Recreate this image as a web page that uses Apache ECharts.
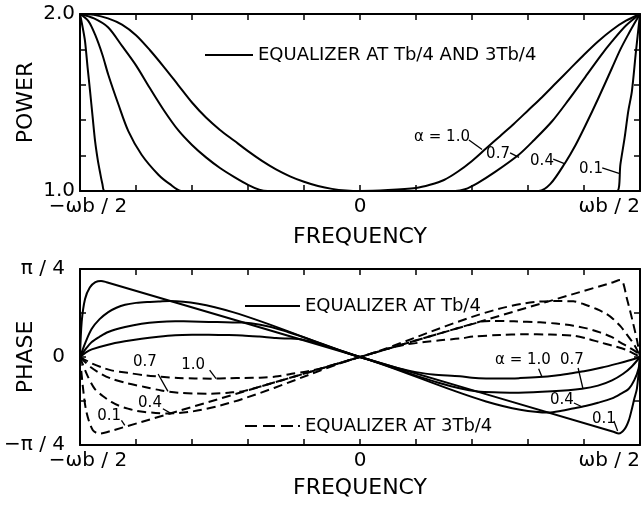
<!DOCTYPE html>
<html><head><meta charset="utf-8">
<script src="https://cdn.jsdelivr.net/npm/echarts/dist/echarts.min.js"></script>
<style>html,body{margin:0;padding:0;background:#fff}#c{width:642px;height:508px}</style>
</head><body><div id="c"></div>
<script>
// ---------- DATA (x in units of ωb/2, power; phase in units of π/4) ----------
const powerA10 = [[-1,2],[-0.95,1.995],[-0.9,1.975],[-0.85,1.94],[-0.8,1.88],[-0.75,1.795],[-0.7,1.7],[-0.65,1.6],[-0.6,1.5],[-0.55,1.415],[-0.5,1.345],[-0.45,1.285],[-0.4,1.225],[-0.35,1.17],[-0.3,1.122],[-0.25,1.083],[-0.2,1.052],[-0.15,1.028],[-0.1,1.012],[-0.05,1.003],[0,1],[0.1,1.005],[0.2,1.017],[0.25,1.035],[0.3,1.062],[0.35,1.11],[0.4,1.17],[0.45,1.24],[0.5,1.31],[0.55,1.38],[0.6,1.455],[0.65,1.53],[0.7,1.61],[0.75,1.69],[0.8,1.77],[0.85,1.845],[0.9,1.91],[0.95,1.962],[1,2]];
const powerA07 = [[-1,2],[-0.95,1.975],[-0.9,1.925],[-0.85,1.82],[-0.8,1.71],[-0.75,1.58],[-0.7,1.455],[-0.65,1.345],[-0.6,1.26],[-0.55,1.19],[-0.5,1.13],[-0.45,1.08],[-0.4,1.035],[-0.36,1.008],[-0.33,1],[0,1],[0.34,1],[0.375,1.01],[0.42,1.045],[0.48,1.105],[0.567,1.205],[0.62,1.285],[0.686,1.394],[0.745,1.515],[0.805,1.645],[0.86,1.765],[0.9,1.845],[0.95,1.935],[1,2]];
const powerA04 = [[-1,2],[-0.97,1.96],[-0.946,1.883],[-0.92,1.77],[-0.899,1.657],[-0.863,1.49],[-0.827,1.337],[-0.78,1.205],[-0.72,1.092],[-0.68,1.04],[-0.637,1],[0,1],[0.638,1],[0.68,1.04],[0.733,1.16],[0.77,1.26],[0.805,1.37],[0.85,1.52],[0.9,1.695],[0.93,1.8],[0.96,1.89],[0.985,1.96],[1,2]];
const powerA01 = [[-1,2],[-0.99,1.92],[-0.982,1.846],[-0.973,1.7],[-0.964,1.563],[-0.955,1.42],[-0.946,1.28],[-0.937,1.18],[-0.929,1.11],[-0.92,1.04],[-0.911,1],[0,1],[0.918,1],[0.93,1.15],[0.945,1.3],[0.958,1.45],[0.971,1.563],[0.985,1.78],[1,2]];

const phaseT4A10 = [[-1,0],[-0.98,0.05],[-0.958,0.087],[-0.9,0.14],[-0.84,0.178],[-0.78,0.208],[-0.72,0.23],[-0.66,0.246],[-0.6,0.252],[-0.54,0.253],[-0.48,0.25],[-0.42,0.245],[-0.36,0.232],[-0.3,0.216],[-0.26,0.21],[-0.22,0.205],[0,0],[0.14,-0.131],[0.2,-0.172],[0.26,-0.2],[0.357,-0.218],[0.4,-0.236],[0.45,-0.244],[0.52,-0.245],[0.57,-0.24],[0.64,-0.228],[0.7,-0.21],[0.745,-0.19],[0.8,-0.163],[0.864,-0.12],[0.92,-0.075],[0.96,-0.04],[1,0]];
const phaseT4A07 = [[-1,0],[-0.98,0.09],[-0.958,0.17],[-0.93,0.23],[-0.899,0.284],[-0.839,0.34],[-0.78,0.378],[-0.72,0.398],[-0.66,0.405],[-0.6,0.404],[-0.54,0.399],[-0.48,0.394],[-0.42,0.392],[0,0],[0.42,-0.393],[0.5,-0.402],[0.567,-0.405],[0.686,-0.39],[0.793,-0.36],[0.85,-0.325],[0.9,-0.265],[0.94,-0.19],[0.97,-0.11],[1,0]];
const phaseT4A04 = [[-1,0],[-0.98,0.17],[-0.958,0.32],[-0.93,0.43],[-0.899,0.51],[-0.87,0.56],[-0.839,0.594],[-0.8,0.615],[-0.76,0.625],[-0.72,0.63],[-0.68,0.636],[0,0],[0.674,-0.63],[0.72,-0.61],[0.76,-0.585],[0.805,-0.557],[0.85,-0.52],[0.9,-0.47],[0.93,-0.42],[0.96,-0.36],[0.98,-0.26],[0.995,-0.13],[1,0]];
const phaseT4A01 = [[-1,0],[-0.994,0.4],[-0.982,0.66],[-0.965,0.79],[-0.945,0.85],[-0.925,0.865],[-0.905,0.85],[0,0],[0.905,-0.85],[0.924,-0.87],[0.945,-0.82],[0.96,-0.72],[0.971,-0.59],[0.98,-0.47],[0.989,-0.36],[1,0]];

const phase3T4A10 = [[-1,0],[-0.96,-0.07],[-0.92,-0.12],[-0.888,-0.152],[-0.83,-0.18],[-0.769,-0.208],[-0.71,-0.225],[-0.65,-0.239],[-0.59,-0.244],[-0.531,-0.246],[-0.47,-0.242],[-0.412,-0.238],[-0.357,-0.235],[-0.293,-0.22],[-0.244,-0.19],[-0.19,-0.165],[-0.14,-0.13],[0,0],[0.12,0.112],[0.17,0.145],[0.23,0.17],[0.286,0.19],[0.357,0.21],[0.405,0.232],[0.5,0.25],[0.583,0.258],[0.68,0.255],[0.762,0.242],[0.81,0.21],[0.857,0.167],[0.9,0.13],[0.952,0.08],[1,0]];
const phase3T4A07 = [[-1,0],[-0.96,-0.12],[-0.92,-0.2],[-0.888,-0.246],[-0.83,-0.3],[-0.769,-0.34],[-0.71,-0.38],[-0.65,-0.405],[-0.59,-0.415],[-0.531,-0.417],[-0.47,-0.405],[-0.412,-0.385],[0,0],[0.43,0.4],[0.464,0.41],[0.55,0.405],[0.643,0.394],[0.7,0.38],[0.762,0.356],[0.81,0.325],[0.857,0.28],[0.9,0.225],[0.929,0.167],[0.96,0.11],[0.988,0.053],[1,0]];
const phase3T4A04 = [[-1,0],[-0.975,-0.2],[-0.948,-0.36],[-0.92,-0.44],[-0.888,-0.511],[-0.86,-0.555],[-0.829,-0.587],[-0.8,-0.61],[-0.769,-0.625],[-0.73,-0.635],[-0.686,-0.642],[0,0],[0.679,0.635],[0.72,0.635],[0.762,0.633],[0.8,0.6],[0.845,0.545],[0.88,0.49],[0.905,0.43],[0.93,0.35],[0.952,0.26],[0.975,0.16],[0.988,0.09],[1,0]];
const phase3T4A01 = [[-1,0],[-0.989,-0.36],[-0.977,-0.625],[-0.954,-0.833],[-0.929,-0.87],[-0.905,-0.855],[0,0],[0.905,0.85],[0.929,0.875],[0.94,0.84],[0.952,0.68],[0.965,0.52],[0.976,0.375],[0.99,0.18],[1,0]];

// tick labels
const freqTickLabels = { '-1': '−ωb / 2', '0': '0', '1': 'ωb / 2' };
const powerTickLabels = { '1': '1.0', '2': '2.0' };
const phaseTickLabels = { '-1': '−π / 4', '0': '0', '1': 'π / 4' };

// annotation texts and anchor points (data units)
const powerCurveLabels = ['α = 1.0', '0.7', '0.4', '0.1'];
const powerLabelAt = [[0.293,1.305],[0.493,1.209],[0.65,1.169],[0.825,1.124]];
const powerLeaders = [[[0.389,1.288],[0.436,1.235]],[[0.536,1.215],[0.568,1.19]],[[0.69,1.18],[0.73,1.155]],[[0.865,1.13],[0.925,1.1]]];
const phaseCurveLabels = ['α = 1.0', '0.7', '0.4', '0.1', '0.7', '1.0', '0.4', '0.1'];
const phaseLabelAt = [[0.582,-0.034],[0.757,-0.034],[0.721,-0.489],[0.871,-0.705],[-0.768,-0.057],[-0.596,-0.091],[-0.75,-0.523],[-0.896,-0.67]];
const phaseLeaders = [[[0.638,-0.133],[0.65,-0.227]],[[0.779,-0.125],[0.796,-0.355]],[[0.764,-0.523],[0.789,-0.56]],[[0.907,-0.727],[0.92,-0.84]],[[-0.721,-0.193],[-0.686,-0.39]],[[-0.537,-0.148],[-0.514,-0.247]],[[-0.704,-0.588],[-0.674,-0.644]],[[-0.852,-0.72],[-0.84,-0.776]]];

const legendTop = 'EQUALIZER AT Tb/4 AND 3Tb/4';
const legendSolid = 'EQUALIZER AT Tb/4';
const legendDashed = 'EQUALIZER AT 3Tb/4';

// ---------- CHART ----------
const FONT = 'DejaVu Sans';
const key = v => String(Math.round(v * 10) / 10);

function xAxisCfg(gridIndex, primary) {
  return {
    type: 'value', gridIndex, min: -1, max: 1, interval: 0.2,
    position: primary ? 'bottom' : 'top',
    axisLine: { show: true, onZero: false, lineStyle: { color: '#000', width: 2 } },
    axisTick: { show: true, inside: true, length: 6, lineStyle: { color: '#000', width: 1.5 } },
    splitLine: { show: false },
    axisLabel: primary ? {
      show: true, margin: 6, color: '#000', fontFamily: FONT, fontSize: 20,
      showMinLabel: true, showMaxLabel: true, alignMaxLabel: 'right', hideOverlap: false,
      formatter: v => { const t = freqTickLabels[key(v)]; if (t === undefined) return ''; return key(v) === '-1' ? '{l|' + t + '}' : t; },
      rich: { l: { fontFamily: FONT, fontSize: 20, color: '#000', padding: [0, 0, 0, 16] } }
    } : { show: false },
    name: primary ? 'FREQUENCY' : '', nameLocation: 'middle', nameGap: gridIndex === 0 ? 35 : 32,
    nameMoveOverlap: false,
    nameTextStyle: { color: '#000', fontFamily: FONT, fontSize: 22 }
  };
}
function yAxisCfg(gridIndex, primary) {
  const isPower = gridIndex === 0;
  return {
    type: 'value', gridIndex,
    min: isPower ? 1 : -1, max: isPower ? 2 : 1, interval: isPower ? 0.2 : 0.5,
    position: primary ? 'left' : 'right',
    axisLine: { show: true, onZero: false, lineStyle: { color: '#000', width: 2 } },
    axisTick: { show: true, inside: true, length: 6, lineStyle: { color: '#000', width: 1.5 } },
    splitLine: { show: false },
    axisLabel: primary ? {
      show: true, margin: isPower ? 5 : 15, color: '#000', fontFamily: FONT, fontSize: 20,
      showMinLabel: true, showMaxLabel: true, hideOverlap: false,
      formatter: v => { const t = (isPower ? powerTickLabels : phaseTickLabels)[key(v)]; return t === undefined ? '' : t; }
    } : { show: false },
    name: primary ? (isPower ? 'POWER' : 'PHASE') : '', nameLocation: 'middle', nameGap: 43,
    nameMoveOverlap: false,
    nameTextStyle: { color: '#000', fontFamily: FONT, fontSize: 22 }
  };
}

function curve(name, data, xi, yi, dashed) {
  return {
    type: 'line', name, data, xAxisIndex: xi, yAxisIndex: yi,
    symbol: 'none', showSymbol: false, smooth: 0.3,
    color: '#000', itemStyle: { color: '#000' },
    lineStyle: { color: '#000', width: 2, type: dashed ? [9, 5] : 'solid', join: 'round' },
    emphasis: { disabled: true }, silent: true, clip: true
  };
}

function annotate(series, labels, at, leaders) {
  series.markPoint = {
    silent: true, symbol: 'circle', symbolSize: 0, animation: false,
    data: labels.map((t, i) => ({ name: t, coord: at[i] })),
    label: { show: true, position: 'inside', formatter: '{b}', color: '#000', fontFamily: FONT, fontSize: 15 }
  };
  series.markLine = {
    silent: true, symbol: ['none', 'none'], animation: false,
    lineStyle: { color: '#000', width: 1.3, type: 'solid' },
    label: { show: false }, emphasis: { disabled: true },
    data: leaders.map(seg => [{ coord: seg[0] }, { coord: seg[1] }])
  };
  return series;
}

const series = [
  annotate(curve(legendTop, powerA10, 0, 0, false), powerCurveLabels, powerLabelAt, powerLeaders),
  curve(legendTop, powerA07, 0, 0, false),
  curve(legendTop, powerA04, 0, 0, false),
  curve(legendTop, powerA01, 0, 0, false),
  annotate(curve(legendSolid, phaseT4A10, 2, 2, false), phaseCurveLabels, phaseLabelAt, phaseLeaders),
  curve(legendSolid, phaseT4A07, 2, 2, false),
  curve(legendSolid, phaseT4A04, 2, 2, false),
  curve(legendSolid, phaseT4A01, 2, 2, false),
  curve(legendDashed, phase3T4A10, 2, 2, true),
  curve(legendDashed, phase3T4A07, 2, 2, true),
  curve(legendDashed, phase3T4A04, 2, 2, true),
  curve(legendDashed, phase3T4A01, 2, 2, true)
];

const legendText = { color: '#000', fontFamily: FONT, fontSize: 18 };
const option = {
  backgroundColor: '#fff',
  animation: false,
  grid: [
    { left: 80, top: 14, width: 560, height: 177, containLabel: false, outerBoundsMode: 'none' },
    { left: 80, top: 269, width: 560, height: 176, containLabel: false, outerBoundsMode: 'none' }
  ],
  xAxis: [xAxisCfg(0, true), xAxisCfg(0, false), xAxisCfg(1, true), xAxisCfg(1, false)],
  yAxis: [yAxisCfg(0, true), yAxisCfg(0, false), yAxisCfg(1, true), yAxisCfg(1, false)],
  legend: [
    { left: 205, top: 46, padding: 0, itemWidth: 48, itemHeight: 2, selectedMode: false, textStyle: legendText,
      data: [{ name: legendTop, icon: 'path://M0,0h48v2h-48z' }] },
    { left: 245, top: 297, padding: 0, itemWidth: 55, itemHeight: 2, selectedMode: false, textStyle: legendText,
      data: [{ name: legendSolid, icon: 'path://M0,0h55v2h-55z' }] },
    { left: 245, top: 417, padding: 0, itemWidth: 55, itemHeight: 2, selectedMode: false, textStyle: legendText,
      data: [{ name: legendDashed, icon: 'path://M0,0h12v2h-12z M18,0h12v2h-12z M36,0h12v2h-12z M53,0h2v2h-2z' }] }
  ],
  series
};
const chart = echarts.init(document.getElementById('c'), null, { renderer: 'canvas' });
chart.setOption(option);
</script>
</body></html>
